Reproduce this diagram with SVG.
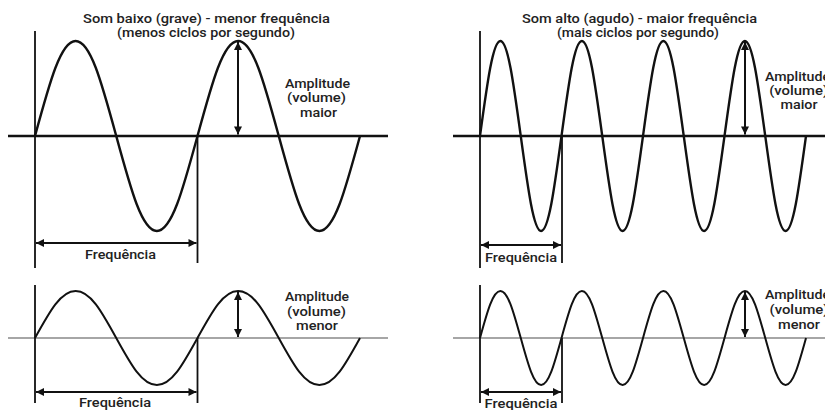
<svg xmlns="http://www.w3.org/2000/svg" width="825" height="410" viewBox="0 0 825 410">
<defs>
<marker id="ah" viewBox="0 0 10 10" refX="10" refY="5" markerWidth="9" markerHeight="8" markerUnits="userSpaceOnUse" orient="auto-start-reverse"><path d="M0,0 L10,5 L0,10 z" fill="#111"/></marker>
<style>
.t{font-family:Roboto,"Liberation Sans",sans-serif;font-weight:500;font-size:13.6px;fill:#222}
.c{text-anchor:middle}
.wave{fill:none;stroke:#111;stroke-width:2.4;stroke-linejoin:round}
.waveS{fill:none;stroke:#111;stroke-width:2;stroke-linejoin:round}
.axis{stroke:#111;stroke-width:2.6}
.axisS{stroke:#888;stroke-width:1.3}
.v{stroke:#111;stroke-width:1.8}
.arr{stroke:#111;stroke-width:2;marker-start:url(#ah);marker-end:url(#ah)}
</style>
</defs>
<rect width="825" height="410" fill="#fff"/>

<g id="panel-low-loud">
<line class="axis" x1="8" y1="136" x2="388" y2="136"/>
<line class="v" x1="35" y1="31" x2="35" y2="268"/>
<line class="v" x1="197.5" y1="136" x2="197.5" y2="263"/>
<path class="wave" d="M35,136 C49.8,81.64 60.83,41 75.63,41 S101.45,81.64 116.25,136 S142.08,231 156.88,231 S182.7,190.36 197.5,136 S223.33,41 238.13,41 S263.95,81.64 278.75,136 S304.58,231 319.38,231 S345.2,190.36 360,136"/>
<text class="t c" x="206.5" y="22.5" textLength="247" lengthAdjust="spacingAndGlyphs">Som baixo (grave) - menor frequência</text>
<text class="t c" x="206" y="37" textLength="178" lengthAdjust="spacingAndGlyphs">(menos ciclos por segundo)</text>
<text class="t c" x="317.5" y="87.5" textLength="65" lengthAdjust="spacingAndGlyphs">Amplitude</text>
<text class="t c" x="316.5" y="102" textLength="59" lengthAdjust="spacingAndGlyphs">(volume)</text>
<text class="t c" x="318.5" y="116.5" textLength="37" lengthAdjust="spacingAndGlyphs">maior</text>
<text class="t c" x="120.5" y="259" textLength="71" lengthAdjust="spacingAndGlyphs">Frequência</text>
</g>

<g id="panel-high-loud">
<line class="axis" x1="453" y1="136" x2="825" y2="136"/>
<line class="v" x1="480" y1="31" x2="480" y2="268"/>
<line class="v" x1="562" y1="136" x2="562" y2="263"/>
<path class="wave" d="M480,136 C487.42,81.64 492.96,41 500.38,41 S513.33,81.64 520.75,136 S533.71,231 541.13,231 S554.08,190.36 561.5,136 S574.46,41 581.88,41 S594.83,81.64 602.25,136 S615.21,231 622.63,231 S635.58,190.36 643,136 S655.96,41 663.38,41 S676.33,81.64 683.75,136 S696.71,231 704.13,231 S717.08,190.36 724.5,136 S737.46,41 744.88,41 S757.83,81.64 765.25,136 S778.21,231 785.63,231 S798.58,190.36 806,136"/>
<text class="t c" x="639.5" y="22.5" textLength="235" lengthAdjust="spacingAndGlyphs">Som alto (agudo) - maior frequência</text>
<text class="t c" x="638" y="37" textLength="162" lengthAdjust="spacingAndGlyphs">(mais ciclos por segundo)</text>
<text class="t" x="765" y="80.5" textLength="65" lengthAdjust="spacingAndGlyphs">Amplitude</text>
<text class="t c" x="798.7" y="94.5" textLength="59" lengthAdjust="spacingAndGlyphs">(volume)</text>
<text class="t c" x="799" y="108.5" textLength="37" lengthAdjust="spacingAndGlyphs">maior</text>
<text class="t c" x="521" y="261.5" textLength="72" lengthAdjust="spacingAndGlyphs">Frequência</text>
</g>

<g id="panel-low-soft">
<line class="axisS" x1="8" y1="338" x2="388" y2="338"/>
<line class="v" x1="35" y1="285" x2="35" y2="403"/>
<line class="v" x1="197.5" y1="338" x2="197.5" y2="403"/>
<path class="waveS" d="M35,338 C49.8,311.11 60.83,291 75.63,291 S101.45,311.11 116.25,338 S142.08,385 156.88,385 S182.7,364.89 197.5,338 S223.33,291 238.13,291 S263.95,311.11 278.75,338 S304.58,385 319.38,385 S345.2,364.89 360,338"/>
<text class="t c" x="317" y="301" textLength="64" lengthAdjust="spacingAndGlyphs">Amplitude</text>
<text class="t c" x="316.5" y="315.5" textLength="59" lengthAdjust="spacingAndGlyphs">(volume)</text>
<text class="t c" x="317" y="330" textLength="42" lengthAdjust="spacingAndGlyphs">menor</text>
<text class="t c" x="115" y="406.5" textLength="72" lengthAdjust="spacingAndGlyphs">Frequência</text>
</g>

<g id="panel-high-soft">
<line class="axisS" x1="453" y1="338" x2="825" y2="338"/>
<line class="v" x1="480" y1="285" x2="480" y2="403"/>
<line class="v" x1="562" y1="338" x2="562" y2="403"/>
<path class="waveS" d="M480,338 C487.42,311.11 492.96,291 500.38,291 S513.33,311.11 520.75,338 S533.71,385 541.13,385 S554.08,364.89 561.5,338 S574.46,291 581.88,291 S594.83,311.11 602.25,338 S615.21,385 622.63,385 S635.58,364.89 643,338 S655.96,291 663.38,291 S676.33,311.11 683.75,338 S696.71,385 704.13,385 S717.08,364.89 724.5,338 S737.46,291 744.88,291 S757.83,311.11 765.25,338 S778.21,385 785.63,385 S798.58,364.89 806,338"/>
<text class="t" x="765" y="299" textLength="65" lengthAdjust="spacingAndGlyphs">Amplitude</text>
<text class="t c" x="799" y="314" textLength="59" lengthAdjust="spacingAndGlyphs">(volume)</text>
<text class="t c" x="799" y="328.5" textLength="42" lengthAdjust="spacingAndGlyphs">menor</text>
<text class="t c" x="521" y="407.5" textLength="73" lengthAdjust="spacingAndGlyphs">Frequência</text>
</g>

<g id="connectors">
<line class="arr" x1="36" y1="243" x2="196.5" y2="243"/>
<line class="arr" x1="481" y1="245" x2="561" y2="245"/>
<line class="arr" x1="36" y1="392" x2="196.5" y2="392"/>
<line class="arr" x1="481" y1="392" x2="561" y2="392"/>
<line class="arr" x1="238" y1="42" x2="238" y2="134.5"/>
<line class="arr" x1="745" y1="42" x2="745" y2="134.5"/>
<line class="arr" x1="238" y1="292" x2="238" y2="337"/>
<line class="arr" x1="745" y1="292" x2="745" y2="337"/>
</g>
</svg>
